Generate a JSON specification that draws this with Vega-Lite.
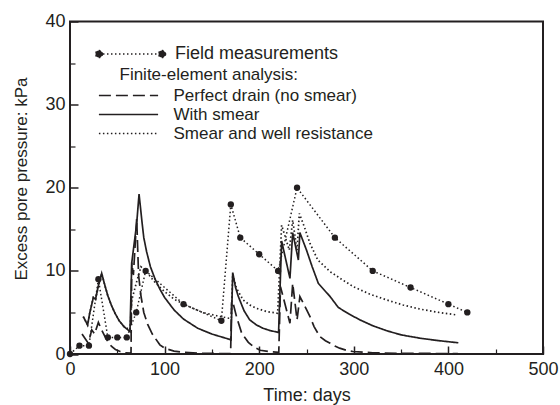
{
  "$schema": "https://vega.github.io/schema/vega-lite/v6.json",
  "autosize": {"type": "none"},
  "width": 473,
  "height": 332.5,
  "padding": {"left": 70, "top": 21.5, "right": 17, "bottom": 51},
  "background": "white",
  "config": {
    "font": "Liberation Sans",
    "view": {"stroke": "#231f20", "strokeWidth": 2},
    "axis": {"labelFont": "Liberation Sans", "titleFont": "Liberation Sans", "labelColor": "#231f20", "titleColor": "#231f20", "tickColor": "#231f20", "grid": false, "domain": false, "titleFontWeight": "normal"},
    "legend": {"labelFont": "Liberation Sans", "titleFont": "Liberation Sans", "labelColor": "#231f20", "titleColor": "#231f20", "titleFontWeight": "normal", "padding": 0, "offset": 0, "labelLimit": 0, "titleLimit": 0}
  },
  "datasets": {
    "field": [
      {"day": 0, "kpa": 0, "src": "Field measurements"},
      {"day": 10, "kpa": 1, "src": "Field measurements"},
      {"day": 20, "kpa": 1, "src": "Field measurements"},
      {"day": 30, "kpa": 9, "src": "Field measurements"},
      {"day": 40, "kpa": 2, "src": "Field measurements"},
      {"day": 50, "kpa": 2, "src": "Field measurements"},
      {"day": 60, "kpa": 2, "src": "Field measurements"},
      {"day": 70, "kpa": 5, "src": "Field measurements"},
      {"day": 80, "kpa": 10, "src": "Field measurements"},
      {"day": 120, "kpa": 6, "src": "Field measurements"},
      {"day": 160, "kpa": 4, "src": "Field measurements"},
      {"day": 170, "kpa": 18, "src": "Field measurements"},
      {"day": 180, "kpa": 14, "src": "Field measurements"},
      {"day": 200, "kpa": 12, "src": "Field measurements"},
      {"day": 220, "kpa": 10, "src": "Field measurements"},
      {"day": 240, "kpa": 20, "src": "Field measurements"},
      {"day": 280, "kpa": 14, "src": "Field measurements"},
      {"day": 320, "kpa": 10, "src": "Field measurements"},
      {"day": 360, "kpa": 8, "src": "Field measurements"},
      {"day": 400, "kpa": 6, "src": "Field measurements"},
      {"day": 420, "kpa": 5, "src": "Field measurements"}
    ],
    "fe": [
      {"series": "Perfect drain (no smear)", "day": 12.7, "kpa": 2.4},
      {"series": "Perfect drain (no smear)", "day": 19.3, "kpa": 1.3},
      {"series": "Perfect drain (no smear)", "day": 23, "kpa": 2.9},
      {"series": "Perfect drain (no smear)", "day": 26, "kpa": 2.4},
      {"series": "Perfect drain (no smear)", "day": 30, "kpa": 3.8},
      {"series": "Perfect drain (no smear)", "day": 33, "kpa": 3.0},
      {"series": "Perfect drain (no smear)", "day": 37, "kpa": 2.1},
      {"series": "Perfect drain (no smear)", "day": 40, "kpa": 1.5},
      {"series": "Perfect drain (no smear)", "day": 44, "kpa": 0.9},
      {"series": "Perfect drain (no smear)", "day": 48, "kpa": 0.55},
      {"series": "Perfect drain (no smear)", "day": 53, "kpa": 0.3},
      {"series": "Perfect drain (no smear)", "day": 58, "kpa": 0.15},
      {"series": "Perfect drain (no smear)", "day": 64.5, "kpa": 0.1},
      {"series": "Perfect drain (no smear)", "day": 65.3, "kpa": 11.0},
      {"series": "Perfect drain (no smear)", "day": 67, "kpa": 9.5},
      {"series": "Perfect drain (no smear)", "day": 70.5, "kpa": 16.3},
      {"series": "Perfect drain (no smear)", "day": 72.5, "kpa": 9.5},
      {"series": "Perfect drain (no smear)", "day": 75, "kpa": 7.0},
      {"series": "Perfect drain (no smear)", "day": 78, "kpa": 5.0},
      {"series": "Perfect drain (no smear)", "day": 82, "kpa": 3.6},
      {"series": "Perfect drain (no smear)", "day": 87, "kpa": 2.4},
      {"series": "Perfect drain (no smear)", "day": 95, "kpa": 1.1},
      {"series": "Perfect drain (no smear)", "day": 100, "kpa": 0.7},
      {"series": "Perfect drain (no smear)", "day": 110, "kpa": 0.35},
      {"series": "Perfect drain (no smear)", "day": 120, "kpa": 0.2},
      {"series": "Perfect drain (no smear)", "day": 140, "kpa": 0.08},
      {"series": "Perfect drain (no smear)", "day": 169.8, "kpa": 0.05},
      {"series": "Perfect drain (no smear)", "day": 170.8, "kpa": 6.3},
      {"series": "Perfect drain (no smear)", "day": 172, "kpa": 6.3},
      {"series": "Perfect drain (no smear)", "day": 176, "kpa": 4.5},
      {"series": "Perfect drain (no smear)", "day": 181.5, "kpa": 2.5},
      {"series": "Perfect drain (no smear)", "day": 188.5, "kpa": 1.4},
      {"series": "Perfect drain (no smear)", "day": 195, "kpa": 0.8},
      {"series": "Perfect drain (no smear)", "day": 201, "kpa": 0.45},
      {"series": "Perfect drain (no smear)", "day": 210, "kpa": 0.3},
      {"series": "Perfect drain (no smear)", "day": 220.7, "kpa": 0.2},
      {"series": "Perfect drain (no smear)", "day": 222.5, "kpa": 8.1},
      {"series": "Perfect drain (no smear)", "day": 232.5, "kpa": 3.7},
      {"series": "Perfect drain (no smear)", "day": 235.4, "kpa": 8.5},
      {"series": "Perfect drain (no smear)", "day": 240, "kpa": 4.1},
      {"series": "Perfect drain (no smear)", "day": 243, "kpa": 6.9},
      {"series": "Perfect drain (no smear)", "day": 248, "kpa": 5.8},
      {"series": "Perfect drain (no smear)", "day": 253.7, "kpa": 4.5},
      {"series": "Perfect drain (no smear)", "day": 258, "kpa": 3.3},
      {"series": "Perfect drain (no smear)", "day": 264, "kpa": 2.1},
      {"series": "Perfect drain (no smear)", "day": 270, "kpa": 1.6},
      {"series": "Perfect drain (no smear)", "day": 275, "kpa": 1.3},
      {"series": "Perfect drain (no smear)", "day": 280, "kpa": 0.95},
      {"series": "Perfect drain (no smear)", "day": 285, "kpa": 0.7},
      {"series": "Perfect drain (no smear)", "day": 292, "kpa": 0.45},
      {"series": "Perfect drain (no smear)", "day": 299, "kpa": 0.3},
      {"series": "Perfect drain (no smear)", "day": 320, "kpa": 0.15},
      {"series": "Perfect drain (no smear)", "day": 350, "kpa": 0.08},
      {"series": "Perfect drain (no smear)", "day": 410, "kpa": 0.05},

      {"series": "With smear", "day": 14, "kpa": 4.5},
      {"series": "With smear", "day": 18.6, "kpa": 3.5},
      {"series": "With smear", "day": 21, "kpa": 5.0},
      {"series": "With smear", "day": 24.7, "kpa": 6.8},
      {"series": "With smear", "day": 27, "kpa": 6.6},
      {"series": "With smear", "day": 30, "kpa": 8.2},
      {"series": "With smear", "day": 33.5, "kpa": 9.7},
      {"series": "With smear", "day": 37, "kpa": 8.2},
      {"series": "With smear", "day": 40, "kpa": 7.0},
      {"series": "With smear", "day": 44, "kpa": 5.8},
      {"series": "With smear", "day": 47.6, "kpa": 4.9},
      {"series": "With smear", "day": 52, "kpa": 4.0},
      {"series": "With smear", "day": 57, "kpa": 3.3},
      {"series": "With smear", "day": 63.4, "kpa": 2.7},
      {"series": "With smear", "day": 65.3, "kpa": 11.0},
      {"series": "With smear", "day": 70.5, "kpa": 15.7},
      {"series": "With smear", "day": 73, "kpa": 19.25},
      {"series": "With smear", "day": 76, "kpa": 16.0},
      {"series": "With smear", "day": 78, "kpa": 14.0},
      {"series": "With smear", "day": 81, "kpa": 12.3},
      {"series": "With smear", "day": 85, "kpa": 10.5},
      {"series": "With smear", "day": 90, "kpa": 9.0},
      {"series": "With smear", "day": 95, "kpa": 7.8},
      {"series": "With smear", "day": 100, "kpa": 6.8},
      {"series": "With smear", "day": 110, "kpa": 5.3},
      {"series": "With smear", "day": 120, "kpa": 4.2},
      {"series": "With smear", "day": 135, "kpa": 3.1},
      {"series": "With smear", "day": 150, "kpa": 2.4},
      {"series": "With smear", "day": 167.5, "kpa": 1.8},
      {"series": "With smear", "day": 170.2, "kpa": 1.7},
      {"series": "With smear", "day": 172, "kpa": 9.8},
      {"series": "With smear", "day": 175, "kpa": 8.0},
      {"series": "With smear", "day": 178, "kpa": 6.9},
      {"series": "With smear", "day": 184, "kpa": 5.2},
      {"series": "With smear", "day": 190, "kpa": 4.1},
      {"series": "With smear", "day": 197, "kpa": 3.5},
      {"series": "With smear", "day": 204, "kpa": 3.1},
      {"series": "With smear", "day": 212, "kpa": 2.8},
      {"series": "With smear", "day": 220.5, "kpa": 2.6},
      {"series": "With smear", "day": 223.7, "kpa": 13.6},
      {"series": "With smear", "day": 232.5, "kpa": 9.1},
      {"series": "With smear", "day": 235.4, "kpa": 14.6},
      {"series": "With smear", "day": 241.4, "kpa": 11.3},
      {"series": "With smear", "day": 243, "kpa": 14.6},
      {"series": "With smear", "day": 250, "kpa": 12.5},
      {"series": "With smear", "day": 256, "kpa": 10.5},
      {"series": "With smear", "day": 262.5, "kpa": 8.5},
      {"series": "With smear", "day": 275, "kpa": 6.9},
      {"series": "With smear", "day": 283.6, "kpa": 5.6},
      {"series": "With smear", "day": 295, "kpa": 4.8},
      {"series": "With smear", "day": 306.6, "kpa": 4.1},
      {"series": "With smear", "day": 320, "kpa": 3.4},
      {"series": "With smear", "day": 334.8, "kpa": 2.8},
      {"series": "With smear", "day": 350, "kpa": 2.3},
      {"series": "With smear", "day": 370, "kpa": 1.9},
      {"series": "With smear", "day": 390, "kpa": 1.6},
      {"series": "With smear", "day": 410.5, "kpa": 1.35},

      {"series": "Smear and well resistance", "day": 14, "kpa": 4.5},
      {"series": "Smear and well resistance", "day": 18.6, "kpa": 3.5},
      {"series": "Smear and well resistance", "day": 21, "kpa": 5.0},
      {"series": "Smear and well resistance", "day": 24.7, "kpa": 6.8},
      {"series": "Smear and well resistance", "day": 27, "kpa": 6.6},
      {"series": "Smear and well resistance", "day": 30, "kpa": 8.2},
      {"series": "Smear and well resistance", "day": 33.5, "kpa": 9.7},
      {"series": "Smear and well resistance", "day": 37, "kpa": 8.2},
      {"series": "Smear and well resistance", "day": 40, "kpa": 7.0},
      {"series": "Smear and well resistance", "day": 44, "kpa": 5.8},
      {"series": "Smear and well resistance", "day": 47.6, "kpa": 4.9},
      {"series": "Smear and well resistance", "day": 52, "kpa": 4.0},
      {"series": "Smear and well resistance", "day": 57, "kpa": 3.3},
      {"series": "Smear and well resistance", "day": 63.4, "kpa": 2.9},
      {"series": "Smear and well resistance", "day": 65.3, "kpa": 6.5},
      {"series": "Smear and well resistance", "day": 70, "kpa": 8.5},
      {"series": "Smear and well resistance", "day": 75, "kpa": 10.5},
      {"series": "Smear and well resistance", "day": 80, "kpa": 10.0},
      {"series": "Smear and well resistance", "day": 90, "kpa": 8.6},
      {"series": "Smear and well resistance", "day": 100, "kpa": 7.5},
      {"series": "Smear and well resistance", "day": 110, "kpa": 6.6},
      {"series": "Smear and well resistance", "day": 120, "kpa": 6.0},
      {"series": "Smear and well resistance", "day": 140, "kpa": 5.0},
      {"series": "Smear and well resistance", "day": 155, "kpa": 4.6},
      {"series": "Smear and well resistance", "day": 168, "kpa": 4.3},
      {"series": "Smear and well resistance", "day": 170.5, "kpa": 4.3},
      {"series": "Smear and well resistance", "day": 172, "kpa": 9.6},
      {"series": "Smear and well resistance", "day": 176, "kpa": 7.9},
      {"series": "Smear and well resistance", "day": 183, "kpa": 6.5},
      {"series": "Smear and well resistance", "day": 190, "kpa": 5.9},
      {"series": "Smear and well resistance", "day": 197, "kpa": 5.5},
      {"series": "Smear and well resistance", "day": 208, "kpa": 5.1},
      {"series": "Smear and well resistance", "day": 219.5, "kpa": 4.9},
      {"series": "Smear and well resistance", "day": 223.7, "kpa": 15.5},
      {"series": "Smear and well resistance", "day": 231.8, "kpa": 12.5},
      {"series": "Smear and well resistance", "day": 235.4, "kpa": 16.1},
      {"series": "Smear and well resistance", "day": 240, "kpa": 12.5},
      {"series": "Smear and well resistance", "day": 242.4, "kpa": 16.9},
      {"series": "Smear and well resistance", "day": 248, "kpa": 15.2},
      {"series": "Smear and well resistance", "day": 253.7, "kpa": 13.3},
      {"series": "Smear and well resistance", "day": 262, "kpa": 11.3},
      {"series": "Smear and well resistance", "day": 275, "kpa": 9.9},
      {"series": "Smear and well resistance", "day": 287, "kpa": 9.0},
      {"series": "Smear and well resistance", "day": 299.5, "kpa": 8.1},
      {"series": "Smear and well resistance", "day": 317, "kpa": 7.2},
      {"series": "Smear and well resistance", "day": 334.8, "kpa": 6.5},
      {"series": "Smear and well resistance", "day": 352, "kpa": 5.9},
      {"series": "Smear and well resistance", "day": 370, "kpa": 5.4},
      {"series": "Smear and well resistance", "day": 390, "kpa": 5.0},
      {"series": "Smear and well resistance", "day": 408.8, "kpa": 4.7}
    ]
  },
  "layer": [
    {
      "data": {"name": "fe"},
      "mark": {"type": "line", "color": "#231f20", "strokeWidth": 1.7, "interpolate": "linear"},
      "encoding": {
        "x": {"field": "day", "type": "quantitative", "scale": {"domain": [0, 500], "nice": false},
          "axis": {"orient": "bottom", "values": [0, 100, 200, 300, 400, 500], "tickSize": -8, "tickWidth": 1.5, "labelPadding": 14, "labelFontSize": 18, "title": "Time: days", "titleFontSize": 18, "titlePadding": 8, "labelFlush": false}},
        "y": {"field": "kpa", "type": "quantitative", "scale": {"domain": [0, 40], "nice": false},
          "axis": {"orient": "left", "values": [0, 10, 20, 30, 40], "tickSize": -8, "tickWidth": 1.5, "labelPadding": 13, "labelFontSize": 18, "title": "Excess pore pressure: kPa", "titleFontSize": 17, "titlePadding": 14, "titleY": 157}},
        "detail": {"field": "series"},
        "strokeDash": {"field": "series", "type": "nominal",
          "scale": {"domain": ["Perfect drain (no smear)", "With smear", "Smear and well resistance"], "range": [[12, 5], [1, 0], [1.5, 2.5]]},
          "legend": {"orient": "none", "legendX": 49.5, "legendY": 45.5, "title": "Finite-element analysis:", "titleFontSize": 17, "titlePadding": 2.5, "labelFontSize": 17, "labelOffset": 36, "symbolType": "M-3.7,0L3.7,0", "symbolSize": 256, "symbolStrokeWidth": 1.7, "symbolStrokeColor": "#231f20", "rowPadding": 2}}
      }
    },
    {
      "data": {"name": "field"},
      "mark": {"type": "line", "color": "#231f20", "strokeWidth": 1.5},
      "encoding": {
        "x": {"field": "day", "type": "quantitative",
          "axis": {"orient": "bottom", "values": [50, 150, 250, 350, 450], "tickSize": -5, "tickWidth": 1.2, "labels": false, "title": null}},
        "y": {"field": "kpa", "type": "quantitative",
          "axis": {"orient": "left", "values": [5, 15, 25, 35], "tickSize": -5, "tickWidth": 1.2, "labels": false, "title": null}},
        "strokeDash": {"field": "src", "type": "nominal",
          "scale": {"domain": ["Field measurements"], "range": [[1.5, 2.5]]},
          "legend": {"orient": "none", "legendX": 51.5, "legendY": 23.5, "title": null, "labelFontSize": 18, "labelOffset": 35.5,
            "symbolType": "M-3.94,0L3.94,0M-3.5,0A0.44,0.44,0,1,0,-4.38,0A0.44,0.44,0,1,0,-3.5,0ZM4.38,0A0.44,0.44,0,1,0,3.5,0A0.44,0.44,0,1,0,4.38,0Z",
            "symbolSize": 256, "symbolStrokeWidth": 1.5, "symbolStrokeColor": "#231f20", "symbolFillColor": "#231f20",
            "encode": {"symbols": {"update": {"fill": {"value": "#231f20"}, "stroke": {"value": "#231f20"}, "strokeWidth": {"value": 1.5}, "strokeDash": {"value": [1.5, 2.5]}, "opacity": {"value": 1}, "strokeOpacity": {"value": 1}}}}}}
      }
    },
    {
      "data": {"name": "field"},
      "mark": {"type": "point", "filled": true, "color": "#231f20", "size": 40, "opacity": 1},
      "encoding": {
        "x": {"field": "day", "type": "quantitative", "axis": null},
        "y": {"field": "kpa", "type": "quantitative", "axis": null}
      }
    }
  ],
  "resolve": {"scale": {"strokeDash": "independent"}, "axis": {"x": "independent", "y": "independent"}}
}
